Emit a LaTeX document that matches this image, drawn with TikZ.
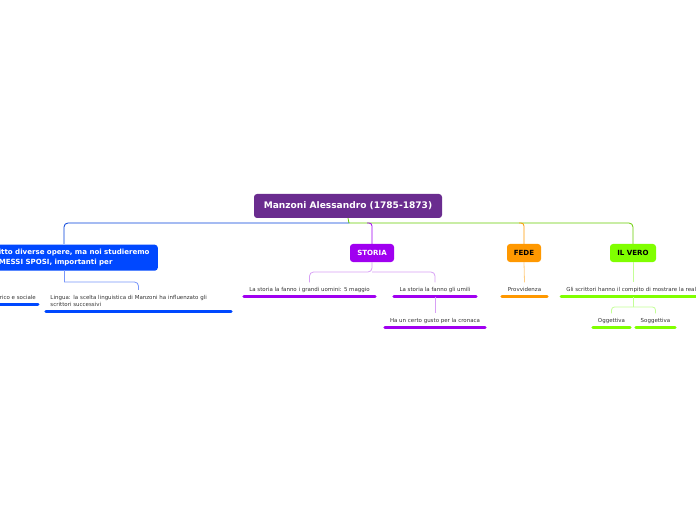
\documentclass[tikz,border=0pt]{standalone}
\usepackage{fontspec}
\setmainfont{DejaVu Sans}
\definecolor{rootc}{RGB}{106,44,143}
\definecolor{bluec}{RGB}{0,72,255}
\definecolor{lbluec}{RGB}{120,150,250}
\definecolor{purplec}{RGB}{160,0,240}
\definecolor{lpurplec}{RGB}{215,160,245}
\definecolor{orangec}{RGB}{255,152,0}
\definecolor{lorangec}{RGB}{255,205,130}
\definecolor{greenc}{RGB}{128,255,0}
\definecolor{lgreenc}{RGB}{195,255,150}
\definecolor{txtc}{RGB}{50,50,50}
\tikzset{
  box/.style={rectangle, rounded corners=3bp, inner sep=0pt, font=\fontsize{7.1}{9.5}\selectfont\bfseries},
  item/.style={inner sep=0pt, minimum height=14bp, text=txtc, font=\fontsize{5.5}{7}\selectfont},
  ul/.style={line width=3bp, line cap=round},
  conn/.style={line width=0.8bp},
}
\begin{document}
\begin{tikzpicture}[x=1bp,y=-1bp]
\useasboundingbox (0,0) rectangle (696,520);
\clip (0,0) rectangle (696,520);
% main nodes
\node[box, fill=rootc, text=white, minimum width=188bp, minimum height=24bp, font=\fontsize{9.1}{11}\selectfont\bfseries] (root) at (348,206) {Manzoni Alessandro (1785-1873)};
\node[box, fill=bluec, text=white, anchor=north east, minimum height=26bp, text width=154bp, align=left, inner xsep=5bp] (lead) at (158,244.5) {itto diverse opere, ma noi studieremo\\MESSI SPOSI, importanti per};
\node[box, fill=purplec, text=white, minimum width=44bp, minimum height=18bp] (storia) at (372,253) {STORIA};
\node[box, fill=orangec, text=black, minimum width=34bp, minimum height=18bp] (fede) at (524,253) {FEDE};
\node[box, fill=greenc, text=black, minimum width=46bp, minimum height=18bp] (vero) at (633,253) {IL VERO};
\coordinate (split) at (349,223);
\coordinate (leadtop) at (64,244);
\coordinate (leadbot) at (64,270);
% root connectors
\draw[conn, greenc!80!black] (root.south) -- (split);
\draw[conn, greenc!80!black, rounded corners=4bp] (split) -| (vero.north);
\draw[conn, bluec!85!black, rounded corners=4bp] (split) -| (leadtop);
\draw[conn, purplec, rounded corners=3bp] (367,223) -| (storia.north);
\draw[conn, orangec, rounded corners=3bp] (519,223) -| (fede.north);
% blue items
\node[item, anchor=east, minimum width=40bp] (sociale) at (38,297.5) {rico e sociale};
\node[item, minimum width=185bp, minimum height=21bp, text width=176bp, align=left, inner xsep=4.5bp] (lingua) at (138.5,300.5) {Lingua: la scelta linguistica di Manzoni ha influenzato gli\\scrittori successivi};
\draw[ul, bluec] (sociale.south west) -- (sociale.south east);
\draw[ul, bluec] (lingua.south west) -- (lingua.south east);
\draw[conn, lbluec] (leadbot) -- (64,282);
\draw[conn, lbluec, rounded corners=4bp] (64,282) -| (lingua.north);
% storia items
\node[item, minimum width=131bp] (grandi) at (309.5,289.5) {La storia la fanno i grandi uomini: 5 maggio};
\node[item, minimum width=82bp] (umili) at (435,289.5) {La storia la fanno gli umili};
\node[item, minimum width=100bp] (cronaca) at (435,320.5) {Ha un certo gusto per la cronaca};
\draw[ul, purplec] (grandi.south west) -- (grandi.south east);
\draw[ul, purplec] (umili.south west) -- (umili.south east);
\draw[ul, purplec] (cronaca.south west) -- (cronaca.south east);
\draw[conn, lpurplec, rounded corners=4bp] (storia.south) -- (372,272) -| (grandi.north);
\draw[conn, lpurplec, rounded corners=4bp] (372,272) -| (umili.north);
\draw[conn, lpurplec] (umili.south) -- (cronaca.north);
% fede items
\node[item, minimum width=45bp] (provv) at (524.5,289.5) {Provvidenza};
\draw[ul, orangec] (provv.south west) -- (provv.south east);
\draw[conn, lorangec] (fede.south) -- (provv.north);
% vero items
\node[item, anchor=west, minimum width=140bp, inner xsep=4bp, align=left] (scritt) at (561,289.5) {Gli scrittori hanno il compito di mostrare la real};
\node[item, minimum width=37bp] (ogg) at (611.5,320.5) {Oggettiva};
\node[item, minimum width=39bp] (sogg) at (655.5,320.5) {Soggettiva};
\draw[ul, greenc] (scritt.south west) -- (scritt.south east);
\draw[ul, greenc] (ogg.south west) -- (ogg.south east);
\draw[ul, greenc] (sogg.south west) -- (sogg.south east);
\draw[conn, lgreenc] (vero.south) -- (vero.south |- scritt.north);
\draw[conn, lgreenc] (vero.south |- scritt.south) -- (633,307);
\draw[conn, lgreenc, rounded corners=3bp] (633,307) -| (ogg.north);
\draw[conn, lgreenc, rounded corners=3bp] (633,307) -| (sogg.north);
\end{tikzpicture}
\end{document}
